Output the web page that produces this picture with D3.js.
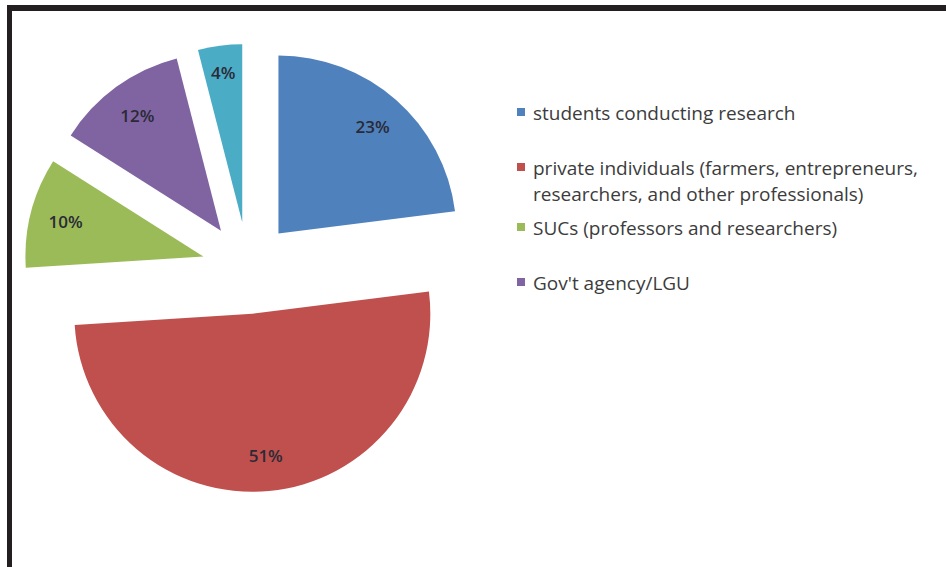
<!DOCTYPE html>
<html>
<head>
<meta charset="utf-8">
<script src="https://cdn.jsdelivr.net/npm/d3@7/dist/d3.min.js"></script>
<style>
  html, body { margin: 0; padding: 0; background: #ffffff; }
  svg { display: block; }
</style>
</head>
<body>
<svg id="chart" width="946" height="567"></svg>
<script>
// Respondent groups and their shares (percent)
const categories = [
  "students conducting research",
  "private individuals (farmers, entrepreneurs, researchers, and other professionals)",
  "SUCs (professors and researchers)",
  "Gov't agency/LGU",
  "others"
];
const shares = [23, 51, 10, 12, 4];
const colors = ["#4F81BD", "#C0504D", "#9BBB59", "#8064A2", "#4BACC6"];
// Legend rows (long names wrapped onto two lines); the legend lists the first four groups
const legendLines = [
  ["students conducting research"],
  ["private individuals (farmers, entrepreneurs,", "researchers, and other professionals)"],
  ["SUCs (professors and researchers)"],
  ["Gov't agency/LGU"]
];

const svg = d3.select("#chart");
const W = 946, H = 567;

// Frame: heavy rule along the top and left edges
svg.append("line").attr("x1", 7).attr("x2", W).attr("y1", 8).attr("y2", 8)
  .attr("stroke", "#231f20").attr("stroke-width", 6);
svg.append("line").attr("x1", 9.5).attr("x2", 9.5).attr("y1", 5).attr("y2", H)
  .attr("stroke", "#231f20").attr("stroke-width", 5);

// Exploded pie
const cx = 248, cy = 268, radius = 178, explode = 46;
const pie = d3.pie().sort(null).value(d => d)(shares);
const arc = d3.arc().innerRadius(0).outerRadius(radius);

const g = svg.append("g").attr("transform", `translate(${cx},${cy})`);
const slices = g.selectAll("g.slice").data(pie).join("g")
  .attr("class", "slice")
  .attr("transform", d => {
    const a = (d.startAngle + d.endAngle) / 2;
    return `translate(${explode * Math.sin(a)},${-explode * Math.cos(a)})`;
  });

slices.append("path")
  .attr("d", arc)
  .attr("fill", (d, i) => colors[i]);

// Percentage labels inside each slice
slices.append("text")
  .attr("transform", d => {
    const a = (d.startAngle + d.endAngle) / 2;
    const k = d.value < 6 ? 0.85 : 0.8;
    return `translate(${radius * k * Math.sin(a)},${-radius * k * Math.cos(a)})`;
  })
  .attr("text-anchor", "middle")
  .attr("dominant-baseline", "central")
  .attr("font-family", "'Open Sans', Lato, sans-serif")
  .attr("font-size", 17)
  .attr("font-weight", 600)
  .attr("fill", "#2a2a36")
  .text(d => d.value + "%");

// Legend
const legendX = 517, textX = 533;
const baselines = [[120], [175, 201], [235], [290]];
const legend = svg.append("g");
legendLines.forEach((lines, i) => {
  const first = baselines[i][0];
  legend.append("rect")
    .attr("x", legendX).attr("y", first - 12)
    .attr("width", 8).attr("height", 8)
    .attr("fill", colors[i]);
  lines.forEach((t, j) => {
    legend.append("text")
      .attr("x", textX).attr("y", baselines[i][j])
      .attr("font-family", "'Open Sans', Lato, sans-serif")
      .attr("font-size", 19)
      .attr("fill", "#3c3c3c")
      .text(t);
  });
});
</script>
</body>
</html>
